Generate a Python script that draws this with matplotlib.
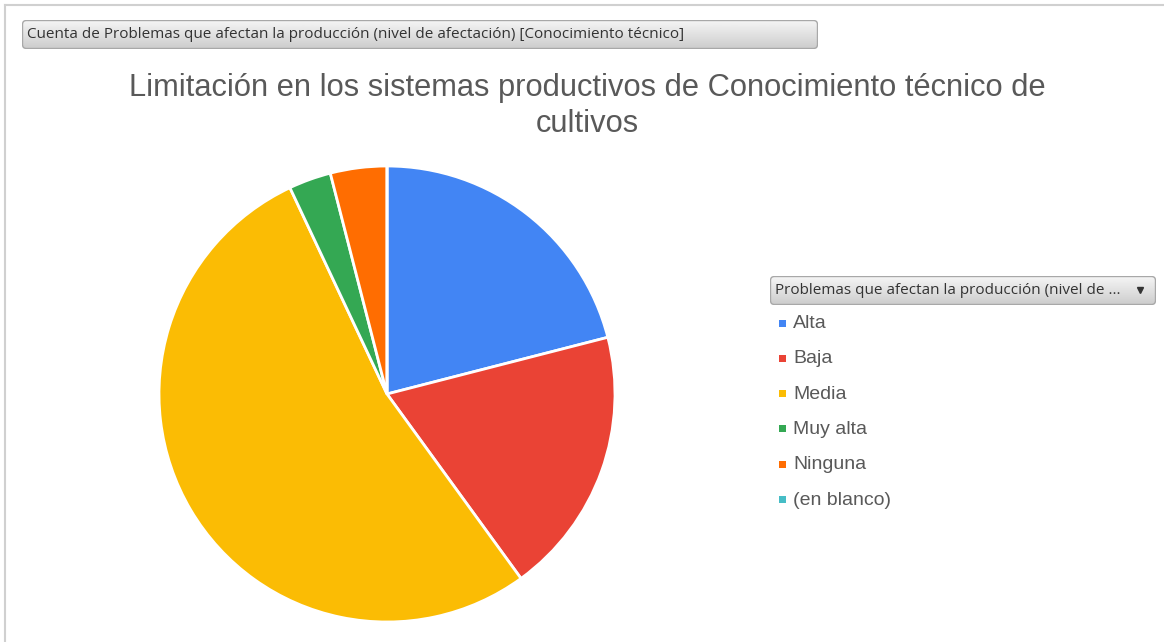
import numpy as np
import matplotlib.pyplot as plt
from matplotlib.patches import FancyBboxPatch, Rectangle
from matplotlib.lines import Line2D

# data (counts)
labels = ["Alta", "Baja", "Media", "Muy alta", "Ninguna", "(en blanco)"]
counts = [21, 19, 53, 3, 4, 0]
colors = ["#4285F4", "#EA4335", "#FBBC04", "#34A853", "#FF6D01", "#46BDC6"]

title = "Limitación en los sistemas productivos de Conocimiento técnico de\ncultivos"
field_btn = "Cuenta de Problemas que afectan la producción (nivel de afectación) [Conocimiento técnico]"
legend_btn = "Problemas que afectan la producción (nivel de ..."

W, H = 1164, 642
fig = plt.figure(figsize=(W / 100, H / 100), dpi=100)
fig.patch.set_facecolor("white")


def px_axes(x, y, w, h):
    # axes from pixel box (top-left origin)
    return fig.add_axes([x / W, 1 - (y + h) / H, w / W, h / H])


# thin frame of the sheet
fig.add_artist(Line2D([5 / W, 1], [1 - 5 / H, 1 - 5 / H], color="#d0d0d0", lw=1.5))
fig.add_artist(Line2D([5 / W, 5 / W], [0, 1 - 5 / H], color="#d0d0d0", lw=1.5))


def gray_button(x, y, w, h, text, fs, arrow=False):
    ax = px_axes(x, y, w, h)
    ax.set_xlim(0, w)
    ax.set_ylim(h, 0)
    ax.axis("off")
    grad = np.linspace(0.96, 0.80, 50).reshape(-1, 1)
    im = ax.imshow(grad, cmap="gray", vmin=0, vmax=1, extent=[0, w, h, 0], aspect="auto")
    box = FancyBboxPatch((0.5, 0.5), w - 1, h - 1, boxstyle="round,pad=0,rounding_size=4",
                         fc="none", ec="#a8a8a8", lw=1)
    ax.add_patch(box)
    im.set_clip_path(box)
    ax.text(5, h / 2 + 0.5, text, ha="left", va="center", fontsize=fs,
            family="Open Sans", color="#333333")
    if arrow:
        ax.plot([w - 16], [h / 2 - 0.5], marker="v", ms=5, color="#333333")
    return ax


gray_button(22, 20, 796, 29, field_btn, 11)

fig.text(587 / W, 1 - 106 / H, title, ha="center", va="center", fontsize=22.2,
         family="Liberation Sans", color="#595959", linespacing=1.3)

# pie
R = 228
cx, cy = 387, 394
ax = px_axes(cx - R - 4, cy - R - 4, 2 * R + 8, 2 * R + 8)
ax.pie(counts, colors=colors, startangle=90, counterclock=False, radius=1,
       wedgeprops=dict(edgecolor="white", linewidth=2))
lim = (R + 4) / R
ax.set_xlim(-lim, lim)
ax.set_ylim(-lim, lim)
ax.set_aspect("equal")
ax.axis("off")

# legend
gray_button(770, 276, 386, 29, legend_btn, 11, arrow=True)
lax = px_axes(770, 305, 390, 210)
lax.set_xlim(0, 390)
lax.set_ylim(210, 0)
lax.axis("off")
for i, (lab, c) in enumerate(zip(labels, colors)):
    yy = 18.5 + i * 35.3
    lax.add_patch(Rectangle((9, yy - 4), 7, 7, fc=c, ec="none"))
    lax.text(23, yy, lab, ha="left", va="center", fontsize=14,
             family="Liberation Sans", color="#595959")

fig.savefig("out.png", dpi=100)
